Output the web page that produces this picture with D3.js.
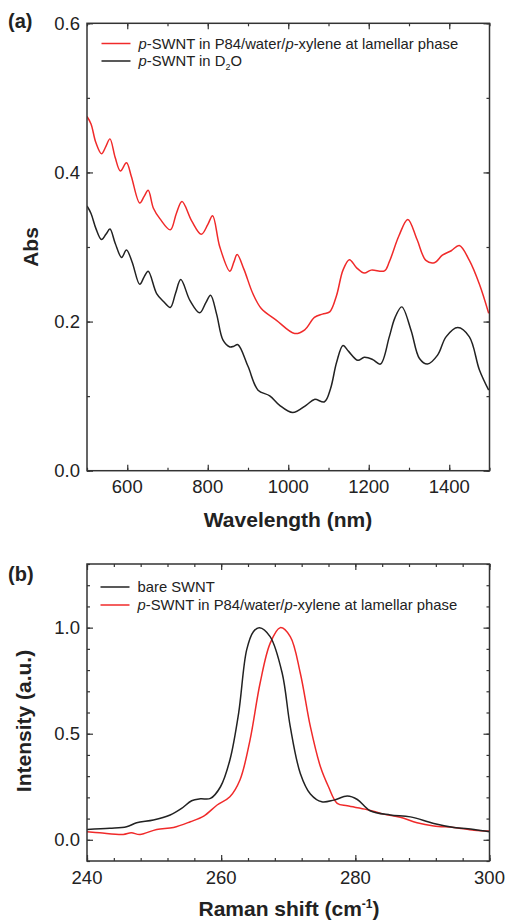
<!DOCTYPE html>
<html><head><meta charset="utf-8">
<script src="https://cdn.jsdelivr.net/npm/d3@7"></script>
<style>body{margin:0;background:#fff}svg{display:block}text{font-family:"Liberation Sans",Arial,sans-serif;fill:#222}</style>
</head><body>
<svg id="c" width="506" height="923"></svg>
<script>
// ---- Panel (a): UV-vis-NIR absorption ----
const absWavelengthRed = [500,510,522,536,547,557,570,583,598,610,631,642,652,665,681,707,722,736,760,784,800,812,830,855,865,873,890,912,933,970,1016,1041,1065,1085,1103,1120,1136,1152,1170,1189,1206,1239,1251,1275,1297,1320,1342,1363,1383,1405,1425,1450,1475,1498];
const absRed = [0.475,0.465,0.44,0.425,0.435,0.445,0.42,0.402,0.413,0.395,0.359,0.368,0.376,0.352,0.338,0.323,0.345,0.361,0.335,0.317,0.33,0.342,0.3,0.2675,0.28,0.29,0.27,0.2376,0.2175,0.202,0.184,0.189,0.2055,0.21,0.213,0.235,0.269,0.283,0.272,0.265,0.269,0.268,0.28,0.315,0.337,0.31,0.282,0.279,0.289,0.295,0.302,0.282,0.25,0.211];
const absWavelengthBlack = [500,510,522,536,547,557,570,586,598,612,631,642,652,673,690,707,720,733,756,780,795,807,822,838,855,865,875,900,925,954,978,1011,1045,1065,1090,1105,1120,1136,1150,1173,1189,1210,1229,1251,1265,1282,1305,1326,1346,1371,1392,1421,1450,1475,1498];
const absBlack = [0.355,0.345,0.325,0.31,0.317,0.324,0.305,0.286,0.296,0.28,0.25,0.26,0.2675,0.2376,0.227,0.219,0.238,0.2564,0.228,0.2117,0.225,0.2354,0.21,0.175,0.166,0.167,0.169,0.14,0.108,0.1005,0.088,0.078,0.088,0.0956,0.0925,0.11,0.145,0.168,0.16,0.148,0.152,0.149,0.143,0.1795,0.205,0.2197,0.1885,0.1505,0.143,0.155,0.1795,0.192,0.1795,0.135,0.108];
const absXTicks = [600,800,1000,1200,1400];
const absYTicks = [0.0,0.2,0.4,0.6];

// ---- Panel (b): Raman RBM ----
const ramanShiftBlack = [240,243.4,245.9,247.4,249.9,252.4,254.1,255.6,256.9,258.4,259.9,261.3,262.6,263.8,264.8,265.7,267.3,269.1,270.3,271.8,273.3,275.0,276.8,278.8,280.3,282.2,285.2,288.2,291.7,294.7,297.7,300];
const ramanBlack = [0.049,0.054,0.061,0.080,0.093,0.117,0.148,0.184,0.193,0.195,0.25,0.376,0.596,0.895,0.981,1.0,0.958,0.785,0.533,0.313,0.216,0.179,0.187,0.206,0.19,0.137,0.117,0.108,0.077,0.058,0.049,0.038];
const ramanShiftRed = [240,241.9,245.4,246.6,247.9,250.4,252.9,255.4,257.4,259.4,261.3,262.8,264.3,265.8,267.3,268.8,270.3,271.8,273.3,274.8,276.0,277.3,278.8,281.7,284.2,286.7,289.2,291.7,294.7,297.7,300];
const ramanRed = [0.038,0.033,0.025,0.033,0.025,0.049,0.058,0.085,0.112,0.164,0.203,0.282,0.47,0.738,0.926,1.0,0.958,0.785,0.533,0.344,0.25,0.172,0.160,0.143,0.121,0.106,0.080,0.065,0.058,0.045,0.041];
const ramanXTicks = [240,260,280,300];
const ramanYTicks = [0.0,0.5,1.0];

const RED = "#f02a2a", BLACK = "#222";
const svg = d3.select("#c");

function zipXY(xs, ys){ return xs.map((x,i)=>[x, ys[i]]); }

function panel(opt){
  const g = svg.append("g");
  const x = d3.scaleLinear().domain(opt.xd).range([opt.left, opt.right]);
  const y = d3.scaleLinear().domain(opt.yd).range([opt.bottom, opt.top]);
  const minorX = d3.range(opt.xd[0], opt.xd[1]+1e-9, opt.xMinor);
  const minorY = d3.range(opt.yd[0], opt.yd[1]+1e-9, opt.yMinor);
  const tk = (sel, axisGen, tr) => g.append("g").attr("transform", tr).call(axisGen).call(s=>{s.select(".domain").remove(); s.selectAll("text").remove(); s.selectAll("line").attr("stroke","#333").attr("stroke-width",1.2);});
  tk(g, d3.axisBottom(x).tickValues(minorX).tickSize(-3), `translate(0,${opt.bottom})`);
  tk(g, d3.axisTop(x).tickValues(minorX).tickSize(-3), `translate(0,${opt.top})`);
  tk(g, d3.axisLeft(y).tickValues(minorY).tickSize(-3), `translate(${opt.left},0)`);
  tk(g, d3.axisRight(y).tickValues(minorY).tickSize(-3), `translate(${opt.right},0)`);
  tk(g, d3.axisBottom(x).tickValues(opt.xTicks).tickSize(-6), `translate(0,${opt.bottom})`);
  tk(g, d3.axisTop(x).tickValues(opt.xTicks).tickSize(-6), `translate(0,${opt.top})`);
  tk(g, d3.axisLeft(y).tickValues(opt.yTicks).tickSize(-6), `translate(${opt.left},0)`);
  tk(g, d3.axisRight(y).tickValues(opt.yTicks).tickSize(-6), `translate(${opt.right},0)`);
  g.selectAll(".xl").data(opt.xTicks).join("text").attr("x", d=>x(d)).attr("y", opt.bottom+22.5)
    .attr("text-anchor","middle").attr("font-size",18.5).text(d=>d);
  g.selectAll(".yl").data(opt.yTicks).join("text").attr("x", opt.left-7).attr("y", d=>y(d)+6.5)
    .attr("text-anchor","end").attr("font-size",18.5).text(d=>d.toFixed(1));
  const cid = "clip"+opt.id;
  svg.append("clipPath").attr("id",cid).append("rect").attr("x",opt.left).attr("y",opt.top).attr("width",opt.right-opt.left).attr("height",opt.bottom-opt.top);
  const line = d3.line().x(d=>x(d[0])).y(d=>y(d[1])).curve(d3.curveCatmullRom.alpha(0.5));
  opt.series.forEach(s=>{
    g.append("path").attr("d", line(zipXY(s.xs, s.ys))).attr("fill","none").attr("stroke", s.color)
      .attr("stroke-width",1.5).attr("clip-path",`url(#${cid})`);
  });
  g.append("rect").attr("x",opt.left).attr("y",opt.top).attr("width",opt.right-opt.left).attr("height",opt.bottom-opt.top)
    .attr("fill","none").attr("stroke","#333").attr("stroke-width",1.5);
  return {g,x,y};
}

const A = panel({id:"a", left:87, right:489.5, top:23.3, bottom:470.7, xd:[500,1500], yd:[0,0.6],
  xMinor:100, yMinor:0.1, xTicks:absXTicks, yTicks:absYTicks,
  series:[{xs:absWavelengthBlack, ys:absBlack, color:BLACK},{xs:absWavelengthRed, ys:absRed, color:RED}]});
const B = panel({id:"b", left:87, right:489.5, top:564, bottom:861, xd:[240,300], yd:[-0.1,1.3],
  xMinor:4, yMinor:0.1, xTicks:ramanXTicks, yTicks:ramanYTicks,
  series:[{xs:ramanShiftRed, ys:ramanRed, color:RED},{xs:ramanShiftBlack, ys:ramanBlack, color:BLACK}]});

svg.append("text").attr("x",8).attr("y",28).attr("font-size",20).attr("font-weight","bold").text("(a)");
svg.append("text").attr("x",8).attr("y",581).attr("font-size",20).attr("font-weight","bold").text("(b)");

svg.append("text").attr("x",288).attr("y",527).attr("text-anchor","middle").attr("font-size",21).attr("font-weight","bold").text("Wavelength (nm)");
svg.append("text").attr("transform","translate(38,247) rotate(-90)").attr("text-anchor","middle").attr("font-size",21).attr("font-weight","bold").text("Abs");
svg.append("text").attr("transform","translate(31,721) rotate(-90)").attr("text-anchor","middle").attr("font-size",21).attr("font-weight","bold").text("Intensity (a.u.)");
const rt = svg.append("text").attr("x",289).attr("y",916).attr("text-anchor","middle").attr("font-size",21).attr("font-weight","bold");
rt.append("tspan").text("Raman shift (cm");
rt.append("tspan").attr("dy",-8).attr("font-size",12).text("-1");
rt.append("tspan").attr("dy",8).text(")");

function legendRow(x0, yy, color, parts){
  svg.append("line").attr("x1",x0).attr("x2",x0+29).attr("y1",yy).attr("y2",yy).attr("stroke",color).attr("stroke-width",1.5);
  const t = svg.append("text").attr("x",x0+37).attr("y",yy+5).attr("font-size",14.8);
  parts.forEach(p=>{
    const s = t.append("tspan").text(p.t);
    if(p.i) s.attr("font-style","italic");
    if(p.sub) s.attr("font-size",9).attr("dy",4);
    if(p.up) s.attr("dy",-4);
  });
}
const lamParts = [{t:"p",i:1},{t:"-SWNT in P84/water/"},{t:"p",i:1},{t:"-xylene at lamellar phase"}];
legendRow(101.5, 43.5, RED, lamParts);
legendRow(101.5, 61, BLACK, [{t:"p",i:1},{t:"-SWNT in D"},{t:"2",sub:1},{t:"O",up:1}]);
legendRow(100.5, 587, BLACK, [{t:"bare SWNT"}]);
legendRow(100.5, 605, RED, lamParts);
</script>
</body></html>
